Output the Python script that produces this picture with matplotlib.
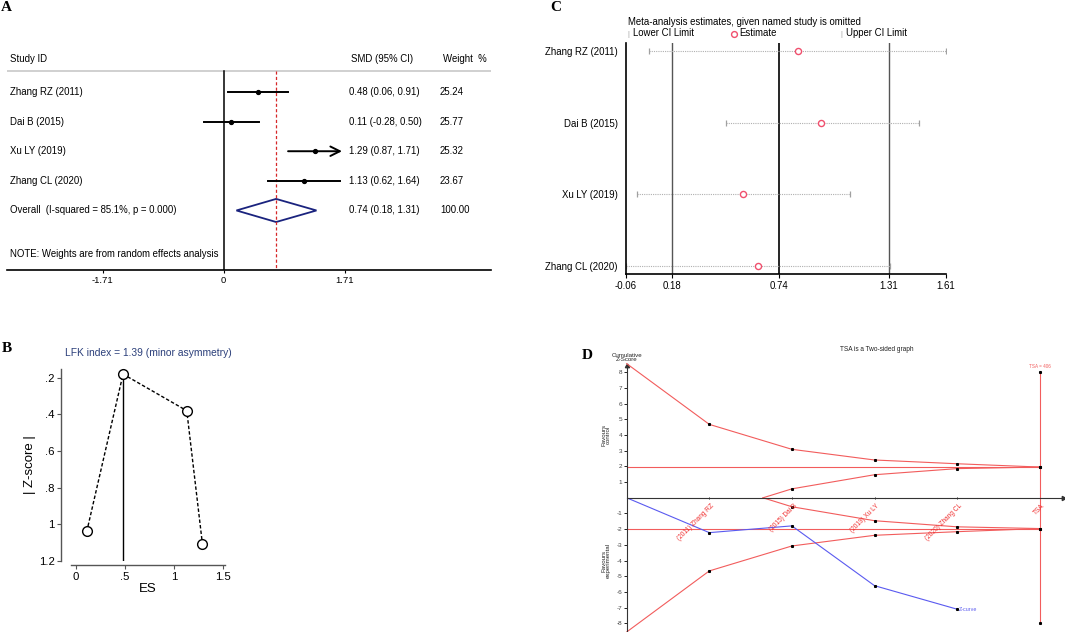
import matplotlib
matplotlib.use("Agg")
import matplotlib.pyplot as plt
from matplotlib.patches import Polygon
import numpy as np

plt.rcParams['font.family'] = ['Liberation Sans', 'DejaVu Sans']

# ---------------- data ----------------
# Panel A: forest plot
studies = ["Zhang RZ (2011)", "Dai B (2015)", "Xu LY (2019)", "Zhang CL (2020)"]
smd = [0.48, 0.11, 1.29, 1.13]
ci_low = [0.06, -0.28, 0.87, 0.62]
ci_high = [0.91, 0.50, 1.71, 1.64]
weights = [25.24, 25.77, 25.32, 23.67]
overall_est, overall_low, overall_high = 0.74, 0.18, 1.31
overall_label = "Overall  (I-squared = 85.1%, p = 0.000)"
a_ticks = [-1.71, 0, 1.71]

# Panel B: Doi plot
lfk_es = [0.11, 0.48, 1.13, 1.29]
lfk_z = [1.04, 0.18, 0.38, 1.11]
lfk_title = "LFK index = 1.39 (minor asymmetry)"
b_xticks = [0, 0.5, 1, 1.5]
b_xticklabels = ["0", ".5", "1", "1.5"]
b_yticks = [0.2, 0.4, 0.6, 0.8, 1.0, 1.2]
b_yticklabels = [".2", ".4", ".6", ".8", "1", "1.2"]

# Panel C: leave-one-out sensitivity
loo_est = [0.84, 0.96, 0.55, 0.63]
loo_low = [0.06, 0.46, 0.00, -0.06]
loo_high = [1.61, 1.47, 1.11, 1.32]
c_ticks = [-0.06, 0.18, 0.74, 1.31, 1.61]

# Panel D: TSA
tsa_labels = ["(2011) Zhang RZ", "(2015) Dai B", "(2019) Xu LY", "(2020) Zhang CL", "TSA"]
tsa_pos = [1, 2, 3, 4, 5]
z_curve_x = [0, 1, 2, 3, 4]
z_curve = [0, -2.22, -1.79, -5.60, -7.10]
bound_x = [0, 1, 2, 3, 4, 5]
upper_bound = [8.55, 4.68, 3.09, 2.41, 2.17, 1.96]
lower_bound = [-8.55, -4.66, -3.07, -2.39, -2.16, -1.96]
fut_x = [1.65, 2, 3, 4, 5]
fut_upper = [0, 0.57, 1.47, 1.86, 1.96]
fut_lower = [0, -0.57, -1.46, -1.85, -1.96]
z_crit = 1.96
tsa_top, tsa_bottom = 8, -8
d_yticks = [-8, -7, -6, -5, -4, -3, -2, -1, 1, 2, 3, 4, 5, 6, 7, 8]

W, H = 1065, 632
fig = plt.figure(figsize=(W / 100, H / 100), dpi=100)


def rect(x0, y0, x1, y1):
    return [x0 / W, 1 - y1 / H, (x1 - x0) / W, (y1 - y0) / H]


def fx(px):
    return px / W


def fy(py):
    return 1 - py / H


letter_kw = dict(family=['Liberation Serif', 'DejaVu Serif'], fontweight='bold', fontsize=11, va='top', ha='left')
fig.text(fx(1), fy(1), "A", **letter_kw)
fig.text(fx(550), fy(1), "C", **letter_kw)
fig.text(fx(2), fy(342), "B", **letter_kw)
fig.text(fx(582), fy(349), "D", **letter_kw)

# ---------------- Panel A ----------------
zero_px, ppu = 223.7, 70.8
axA = fig.add_axes(rect(7, 44.6, 491, 270))
axA.set_xlim((7 - zero_px) / ppu, (491 - zero_px) / ppu)
row0, rstep = 92, 29.6
axA.set_ylim(6.01, -1.6)


def ax_px(px):
    return (px - zero_px) / ppu


for s in ['top', 'right', 'left']:
    axA.spines[s].set_visible(False)
axA.spines['bottom'].set_linewidth(1.2)
axA.set_yticks([])
axA.set_xticks(a_ticks)
axA.set_xticklabels([f"{t:g}" if t != 0 else "0" for t in a_ticks], fontsize=6.8)
axA.tick_params(axis='x', length=2, pad=2)

fsA = 6.9
axA.axhline(-0.71, color='#c8c8c8', lw=1.2)
axA.plot([0, 0], [-0.71, 6.01], color='black', lw=1.1)
axA.plot([overall_est] * 2, [-0.71, 6.01], color='#d62728', lw=0.9, ls=(0, (2.5, 1.8)))
axA.text(ax_px(10), -1.11, "Study ID", fontsize=fsA, va='center')
axA.text(ax_px(351), -1.11, "SMD (95% CI)", fontsize=fsA, va='center')
axA.text(ax_px(443), -1.11, "Weight  %", fontsize=fsA, va='center')

for i, (nm, e, lo, hi, w) in enumerate(zip(studies, smd, ci_low, ci_high, weights)):
    if hi >= a_ticks[-1]:
        axA.annotate('', xy=(hi, i), xytext=(lo, i),
                     arrowprops=dict(arrowstyle='->', lw=1.4, color='black', mutation_scale=17))
    else:
        axA.plot([lo, hi], [i, i], color='black', lw=1.4)
    axA.plot(e, i, 'o', color='black', ms=2.8)
    axA.text(ax_px(10), i, nm, fontsize=fsA, va='center')
    axA.text(ax_px(349), i, f"{e:.2f} ({lo:.2f}, {hi:.2f})", fontsize=fsA, va='center')
    axA.text(ax_px(440), i, f"{w:.2f}", fontsize=fsA, va='center')

r_ov = len(studies)
dh = 0.39
axA.add_patch(Polygon([(overall_low, r_ov), (overall_est, r_ov - dh), (overall_high, r_ov),
                       (overall_est, r_ov + dh)], closed=True, fill=False, edgecolor='#1a237e', lw=1.3))
axA.text(ax_px(10), r_ov, overall_label, fontsize=fsA, va='center')
axA.text(ax_px(349), r_ov, f"{overall_est:.2f} ({overall_low:.2f}, {overall_high:.2f})", fontsize=fsA, va='center')
axA.text(ax_px(440), r_ov, "100.00", fontsize=fsA, va='center')
axA.text(ax_px(10), (254 - row0) / rstep, "NOTE: Weights are from random effects analysis", fontsize=fsA, va='center')

# ---------------- Panel C ----------------
axC = fig.add_axes(rect(626, 43, 946, 274))
axC.set_xlim(c_ticks[0], c_ticks[-1])
axC.set_ylim(len(studies) + 0.11, 0.89)
for s in ['top', 'right']:
    axC.spines[s].set_visible(False)
for s in ['left', 'bottom']:
    axC.spines[s].set_linewidth(1.2)
axC.set_xticks(c_ticks)
axC.set_xticklabels([f"{t:.2f}" for t in c_ticks], fontsize=6.9)
axC.set_yticks(range(1, len(studies) + 1))
axC.set_yticklabels(studies, fontsize=6.9)
axC.tick_params(axis='y', length=0, pad=6)
axC.tick_params(axis='x', length=3, pad=2)
for t in [c_ticks[1], c_ticks[3]]:
    axC.axvline(t, color='#555555', lw=1.0)
axC.axvline(c_ticks[2], color='black', lw=1.2)
for i, (e, lo, hi) in enumerate(zip(loo_est, loo_low, loo_high)):
    y = i + 1
    axC.plot([lo, hi], [y, y], color='#b0b0b0', lw=0.8, ls=(0, (1, 1)))
    axC.plot([lo, hi], [y, y], '|', color='#a0a0a0', ms=5, mew=0.9)
    axC.plot(e, y, 'o', mfc='white', mec='#f0506e', ms=4.4, mew=1.0)

fsC = 6.9
fig.text(fx(628), fy(22), "Meta-analysis estimates, given named study is omitted", fontsize=fsC, va='center')
fig.text(fx(627), fy(34), "|", fontsize=5.5, color='#a0a0a0', va='center')
fig.text(fx(633), fy(33.5), "Lower CI Limit", fontsize=fsC, va='center')
fig.lines.append(plt.Line2D([fx(734)], [fy(33.5)], marker='o', mfc='white', mec='#f0506e', ms=4.2, mew=1.0,
                            transform=fig.transFigure, figure=fig))
fig.text(fx(739), fy(33.5), "Estimate", fontsize=fsC, va='center')
fig.text(fx(840), fy(34), "|", fontsize=5.5, color='#a0a0a0', va='center')
fig.text(fx(846), fy(33.5), "Upper CI Limit", fontsize=fsC, va='center')

# ---------------- Panel B ----------------
axB = fig.add_axes(rect(70.7, 369, 225, 560.7))
axB.set_xlim(-0.054, 1.52)
axB.set_ylim(1.2, 0.152)
for s in ['top', 'right']:
    axB.spines[s].set_visible(False)
axB.spines['left'].set_position(('outward', 7))
axB.spines['bottom'].set_position(('outward', 3.3))
for s in ['left', 'bottom']:
    axB.spines[s].set_color('#555555')
    axB.spines[s].set_linewidth(1.0)
axB.set_xticks(b_xticks)
axB.set_xticklabels(b_xticklabels, fontsize=8.2)
axB.set_yticks(b_yticks)
axB.set_yticklabels(b_yticklabels, fontsize=8.2)
axB.tick_params(axis='both', length=3, color='#555555', pad=1.5)
order = np.argsort(lfk_es)
es_sorted = np.array(lfk_es)[order]
z_sorted = np.array(lfk_z)[order]
axB.plot(es_sorted, z_sorted, color='black', lw=1.0, ls=(0, (2.5, 1.5)), zorder=2)
top_i = int(np.argmin(lfk_z))
axB.plot([lfk_es[top_i]] * 2, [lfk_z[top_i], b_yticks[-1]], color='black', lw=1.0, zorder=2)
axB.plot(lfk_es, lfk_z, 'o', mfc='white', mec='black', ms=7, mew=1.0, clip_on=False, zorder=3)
axB.set_xlabel("ES", fontsize=9.5, labelpad=1)
axB.set_ylabel("| Z-score |", fontsize=9.5, labelpad=2)
fig.text(fx(148), fy(353), lfk_title, fontsize=7.4, color='#2b3f7a', ha='center', va='center')

# ---------------- Panel D ----------------
red = '#f25c5c'
label_red = '#f03030'
blue = '#5a5af0'
zero_y_px, unit_y = 497.8, 15.69
axD = fig.add_axes(rect(626.7, 360, 1063, 632))
axD.set_xlim(0, (1063 - 626.7) / 82.6)
axD.set_ylim((zero_y_px - 632) / unit_y, (zero_y_px - 360) / unit_y)
for s in ['top', 'right']:
    axD.spines[s].set_visible(False)
axD.spines['left'].set_position(('data', 0))
axD.spines['bottom'].set_position(('data', 0))
axD.spines['left'].set_bounds(-8.55, 8.4)
for s in ['left', 'bottom']:
    axD.spines[s].set_linewidth(0.8)
    axD.spines[s].set_color('#333333')
axD.patch.set_alpha(0)
axD.plot(0, 8.4, marker=(3, 0, 0), color='#333333', ms=3.5, clip_on=False)
axD.plot(axD.get_xlim()[1], 0, marker=(3, 0, -90), color='#333333', ms=3.5, clip_on=False)
axD.set_yticks(d_yticks)
axD.set_yticklabels([str(t) for t in d_yticks], fontsize=4.6, color='#444444')
axD.tick_params(axis='y', length=2, pad=1, width=0.6)
axD.set_xticks(tsa_pos)
axD.set_xticklabels([])
axD.tick_params(axis='x', length=2, width=0.6, direction='inout')
for p, lab in zip(tsa_pos, tsa_labels):
    axD.text(p + 0.02, -0.3, lab, fontsize=4.7, color=label_red, rotation=45, ha='right', va='top',
             rotation_mode='anchor')

axD.plot([0, 5], [z_crit, z_crit], color=red, lw=0.8)
axD.plot([0, 5], [-z_crit, -z_crit], color=red, lw=0.8)
axD.plot(bound_x, upper_bound, color=red, lw=0.8, clip_on=False)
axD.plot(bound_x, lower_bound, color=red, lw=0.8, clip_on=False)
axD.plot(fut_x, fut_upper, color=red, lw=0.8)
axD.plot(fut_x, fut_lower, color=red, lw=0.8)
axD.plot([5, 5], [tsa_bottom, tsa_top], color=red, lw=0.8)
axD.plot(bound_x[1:], upper_bound[1:], 's', color='black', ms=1.2)
axD.plot(bound_x[1:], lower_bound[1:], 's', color='black', ms=1.2)
axD.plot(fut_x[1:], fut_upper[1:], 's', color='black', ms=1.2)
axD.plot(fut_x[1:], fut_lower[1:], 's', color='black', ms=1.2)
axD.plot([5, 5], [tsa_bottom, tsa_top], 's', color='black', ms=1.2)
axD.plot(z_curve_x, z_curve, color=blue, lw=0.8)
axD.plot(z_curve_x[1:], z_curve[1:], 's', color='black', ms=1.2)
axD.text(z_curve_x[-1] + 0.02, z_curve[-1], "Z-curve", fontsize=3.9, color=blue, va='center', ha='left')
axD.text(5, tsa_top + 0.2, "TSA = 406", fontsize=3.3, color=red, ha='center', va='bottom')

fig.text(fx(876.7), fy(350), "TSA is a Two-sided graph", fontsize=4.7, ha='center', va='center', color='#222222')
fig.text(fx(626.7), fy(357.5), "Cumulative\nZ-Score", fontsize=4.4, ha='center', va='center',
         linespacing=0.95, color='#222222')
fig.text(fx(606), fy(435), "Favours\ncontrol", fontsize=4.4, ha='center', va='center', rotation=90,
         linespacing=0.95, color='#222222')
fig.text(fx(606), fy(561), "Favours\nexperimental", fontsize=4.4, ha='center', va='center', rotation=90,
         linespacing=0.95, color='#222222')

fig.savefig("out.png", dpi=100)
